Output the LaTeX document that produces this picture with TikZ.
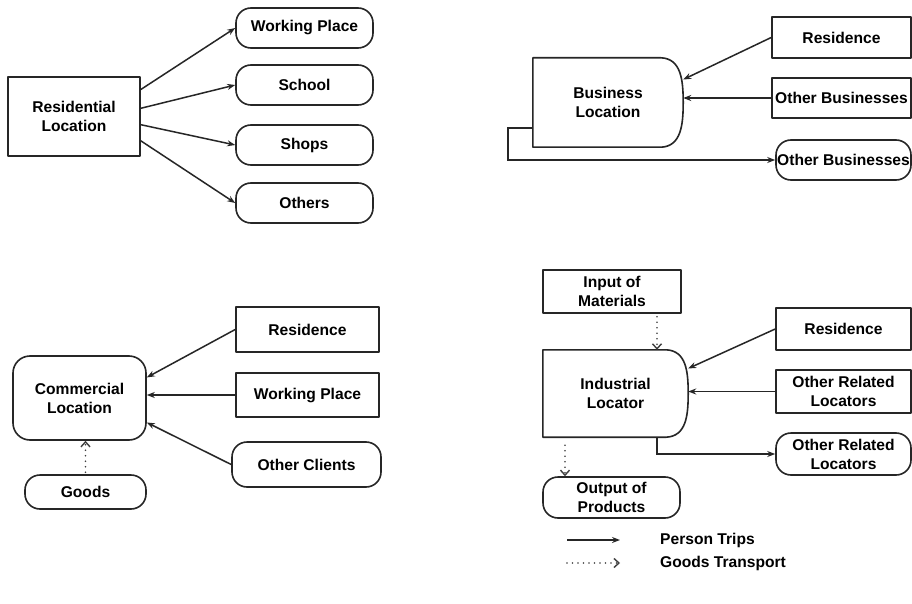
\documentclass[tikz,border=0pt]{standalone}
\usepackage{fontspec}
\setmainfont{Liberation Sans}
\usetikzlibrary{arrows.meta,calc}

% Outline of a box whose right side bulges out (drawn round an invisible node)
\newcommand{\drawdshape}[1]{%
  \draw[outline]
    (#1.north west) -- ($(#1.north east)+(-22,0)$)
    .. controls ($(#1.north east)+(-2,1)$) and ($(#1.east)+(0,-22)$) .. (#1.east)
    .. controls ($(#1.east)+(0,22)$) and ($(#1.south east)+(-2,-1)$) .. ($(#1.south east)+(-22,0)$)
    -- (#1.south west) -- cycle;}

\begin{document}
\begin{tikzpicture}[x=1pt,y=-1pt,
  every node/.style={font=\fontsize{15.6}{19}\selectfont\bfseries, align=center, inner sep=0pt},
  outline/.style={line width=1.6pt, line join=round, draw=black!85},
  boxrect/.style={draw, outline},
  boxround/.style={draw, outline, rounded corners=15pt},
  dbox/.style={draw=none},
  person/.style={line width=1.5pt, draw=black!85, -{Stealth[length=8pt,width=6pt]}},
  goods/.style={line width=1.7pt, draw=black!75, line cap=round, dash pattern=on 0pt off 5.5pt,
                -{Straight Barb[length=5pt,width=9pt,line width=1.4pt]}},
]
\useasboundingbox (0,0) rectangle (912,604);
\fill[white] (0,0) rectangle (912,604);

% ---------------- Residential location ----------------
\node[boxrect, minimum width=132pt, minimum height=79pt] (resloc) at (74,116.5) {Residential\\Location};
\node[boxround, minimum width=137pt, minimum height=40pt] (wp)     at (304.5,28)  {Working Place};
\node[boxround, minimum width=137pt, minimum height=40pt] (school) at (304.5,85)  {School};
\node[boxround, minimum width=137pt, minimum height=40pt] (shops)  at (304.5,145) {Shops};
\node[boxround, minimum width=137pt, minimum height=40pt] (others) at (304.5,203) {Others};

\draw[person] (resloc.22)  -- (wp.west);
\draw[person] (resloc.7)   -- (school.west);
\draw[person] (resloc.-7)  -- (shops.west);
\draw[person] (resloc.-20) -- (others.west);

% ---------------- Business location ----------------
\node[dbox, minimum width=150pt, minimum height=89pt] (busloc) at (608,102.5) {Business\\Location};
\drawdshape{busloc}
\node[boxrect, minimum width=139pt, minimum height=41pt] (bres) at (841.5,37.5) {Residence};
\node[boxrect, minimum width=139pt, minimum height=40pt] (bob1) at (841.5,98) {Other Businesses};
\node[boxround, minimum width=135pt, minimum height=40pt] (bob2) at (843.5,160) {Other Businesses};

\draw[person] (bres.west) -- (busloc.17);
\draw[person] (bob1.west) -- (bob1.west -| busloc.east);
\coordinate (busout) at ($(busloc.west)+(0,25.5)$);
\draw[person] (busout) -- ++(-25,0) |- (bob2.west);

% ---------------- Commercial location ----------------
\node[boxround, rounded corners=17pt, minimum width=133pt, minimum height=84pt] (comloc) at (79.5,398) {Commercial\\Location};
\node[boxrect, minimum width=143pt, minimum height=45pt] (cres) at (307.5,329.5) {Residence};
\node[boxrect, minimum width=143pt, minimum height=44pt] (cwp)  at (307.5,395) {Working Place};
\node[boxround, minimum width=149pt, minimum height=45pt] (coc) at (306.5,464.5) {Other Clients};
\node[boxround, minimum width=121pt, minimum height=34pt] (goods) at (85.5,492) {Goods};

\draw[person] (cres.west) -- (comloc.17);
\draw[person] (cwp.west) -- (cwp.west -| comloc.east);
\draw[person] (coc.west) -- (comloc.-20);
\coordinate (goodsup) at ($(goods.north)+(0,-2)$);
\draw[goods] (goodsup) -- (goodsup |- comloc.south);

% ---------------- Industrial locator ----------------
\node[boxrect, minimum width=138pt, minimum height=43pt] (inp) at (612,291.5) {Input of\\Materials};
\node[dbox, minimum width=145pt, minimum height=87pt] (indloc) at (615.5,393.5) {Industrial\\Locator};
\drawdshape{indloc}
\node[boxrect, minimum width=135pt, minimum height=42pt] (ires)  at (843.5,329) {Residence};
\node[boxrect, minimum width=135pt, minimum height=43pt] (iorl1) at (843.5,391.5) {Other Related\\Locators};
\node[boxround, minimum width=135pt, minimum height=42pt] (iorl2) at (843.5,454) {Other Related\\Locators};
\node[boxround, minimum width=137pt, minimum height=41pt] (outp) at (611.5,497.5) {Output of\\Products};

\draw[person] (ires.west) -- (indloc.19);
\draw[person] (iorl1.west) -- (iorl1.west -| indloc.east);
\coordinate (indsrc) at ($(indloc.south)+(41.5,0)$);
\draw[person] (indsrc) |- (iorl2.west);
\coordinate (inpdrop) at ($(inp.south)+(45,3)$);
\draw[goods] (inpdrop) -- (inpdrop |- indloc.north);
\coordinate (outsrc) at ($(indloc.south)+(-50.5,8)$);
\draw[goods] (outsrc) -- (outsrc |- outp.north);

% ---------------- Legend ----------------
\coordinate (lgpA) at (567,540);
\coordinate (lgpB) at (620,540);
\coordinate (lggA) at (567,563);
\coordinate (lggB) at (620,563);
\draw[person] (lgpA) -- (lgpB);
\draw[goods] (lggA) -- (lggB);
\node[anchor=west] (lgp) at (660,540) {Person Trips};
\node[anchor=west] (lgg) at (660,563) {Goods Transport};
\end{tikzpicture}
\end{document}
